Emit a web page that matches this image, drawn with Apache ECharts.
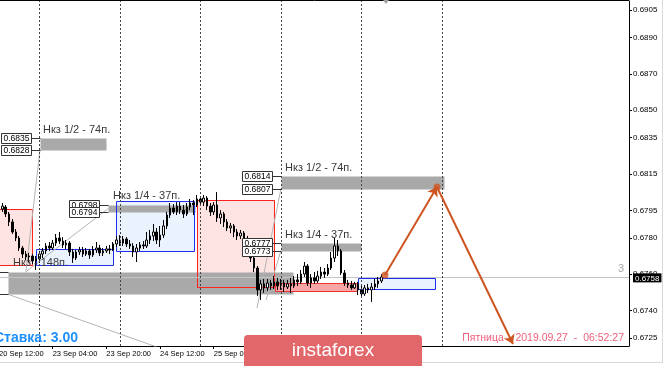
<!DOCTYPE html>
<html><head><meta charset="utf-8">
<script src="https://cdn.jsdelivr.net/npm/echarts@6/dist/echarts.min.js"></script>
<style>html,body{margin:0;padding:0;background:#fff}#c{width:665px;height:366px}</style>
</head><body><div id="c"></div>
<script>
// H1 candles, bar index 0 = 20 Sep 12:00
const opens = [
0.67969,0.67958,0.67969,0.67931,0.67887,0.67832,0.67799,0.67744,0.67711,0.67695,
0.67700,0.67673,0.67684,0.67711,0.67728,0.67755,0.67744,0.67771,0.67799,0.67782,
0.67761,0.67771,0.67722,0.67689,0.67722,0.67733,0.67711,0.67728,0.67706,0.67733,
0.67744,0.67717,0.67728,0.67739,0.67733,0.67766,0.67788,0.67771,0.67793,0.67766,
0.67755,0.67722,0.67744,0.67761,0.67755,0.67788,0.67810,0.67832,0.67788,0.67815,
0.67865,0.67925,0.67963,0.67942,0.67974,0.67952,0.67931,0.67969,0.67991,0.67980,
0.68013,0.67996,0.68018,0.67974,0.67942,0.67980,0.67909,0.67931,0.67887,0.67854,
0.67865,0.67832,0.67810,0.67826,0.67788,0.67744,0.67689,0.67634,0.67514,0.67547,
0.67525,0.67552,0.67536,0.67558,0.67536,0.67552,0.67530,0.67547,0.67536,0.67569,
0.67558,0.67601,0.67645,0.67552,0.67580,0.67563,0.67590,0.67612,0.67601,0.67634,
0.67689,0.67755,0.67728,0.67607,0.67552,0.67541,0.67525,0.67547,0.67514,0.67492,
0.67525,0.67514,0.67530,0.67547,0.67563];
const closes = [
0.67952,0.67974,0.67931,0.67887,0.67832,0.67799,0.67744,0.67711,0.67695,0.67700,
0.67673,0.67684,0.67711,0.67728,0.67755,0.67744,0.67771,0.67799,0.67782,0.67761,
0.67771,0.67722,0.67689,0.67722,0.67733,0.67711,0.67728,0.67706,0.67733,0.67744,
0.67717,0.67728,0.67739,0.67733,0.67766,0.67788,0.67771,0.67793,0.67766,0.67755,
0.67722,0.67744,0.67761,0.67755,0.67788,0.67810,0.67832,0.67788,0.67815,0.67865,
0.67925,0.67963,0.67942,0.67974,0.67952,0.67931,0.67969,0.67991,0.67980,0.68013,
0.67996,0.68018,0.67974,0.67942,0.67980,0.67909,0.67931,0.67887,0.67854,0.67865,
0.67832,0.67810,0.67826,0.67788,0.67744,0.67689,0.67634,0.67514,0.67547,0.67525,
0.67552,0.67536,0.67558,0.67536,0.67552,0.67530,0.67547,0.67536,0.67569,0.67558,
0.67601,0.67645,0.67552,0.67580,0.67563,0.67590,0.67612,0.67601,0.67634,0.67689,
0.67755,0.67728,0.67607,0.67552,0.67541,0.67525,0.67547,0.67514,0.67492,0.67525,
0.67514,0.67530,0.67547,0.67563,0.67585];
const lows = [
0.67936,0.67942,0.67914,0.67865,0.67821,0.67782,0.67728,0.67689,0.67678,0.67667,
0.67656,0.67623,0.67662,0.67689,0.67711,0.67728,0.67733,0.67755,0.67766,0.67744,
0.67739,0.67700,0.67662,0.67678,0.67706,0.67695,0.67700,0.67684,0.67695,0.67717,
0.67700,0.67700,0.67717,0.67711,0.67728,0.67750,0.67755,0.67755,0.67750,0.67739,
0.67695,0.67667,0.67728,0.67739,0.67744,0.67766,0.67782,0.67766,0.67750,0.67799,
0.67848,0.67909,0.67931,0.67925,0.67931,0.67909,0.67920,0.67952,0.67925,0.67969,
0.67980,0.67974,0.67952,0.67920,0.67925,0.67887,0.67876,0.67859,0.67837,0.67826,
0.67804,0.67788,0.67793,0.67766,0.67722,0.67667,0.67612,0.67481,0.67459,0.67497,
0.67508,0.67514,0.67519,0.67514,0.67514,0.67503,0.67519,0.67497,0.67525,0.67536,
0.67547,0.67585,0.67536,0.67525,0.67547,0.67552,0.67574,0.67580,0.67590,0.67623,
0.67667,0.67700,0.67596,0.67536,0.67525,0.67514,0.67519,0.67486,0.67470,0.67481,
0.67497,0.67448,0.67514,0.67525,0.67552];
const highs = [
0.67991,0.67991,0.67980,0.67942,0.67903,0.67848,0.67810,0.67755,0.67728,0.67717,
0.67711,0.67700,0.67728,0.67744,0.67771,0.67777,0.67788,0.67821,0.67832,0.67804,
0.67788,0.67782,0.67739,0.67733,0.67750,0.67750,0.67744,0.67739,0.67755,0.67777,
0.67761,0.67744,0.67755,0.67761,0.67777,0.67810,0.67815,0.67810,0.67804,0.67788,
0.67771,0.67766,0.67777,0.67782,0.67832,0.67843,0.67876,0.67854,0.67865,0.67898,
0.67942,0.67991,0.67985,0.67996,0.67996,0.67980,0.67991,0.68013,0.68007,0.68035,
0.68029,0.68035,0.68029,0.67991,0.67996,0.68051,0.67952,0.67942,0.67903,0.67881,
0.67876,0.67848,0.67843,0.67837,0.67810,0.67755,0.67700,0.67645,0.67569,0.67574,
0.67574,0.67569,0.67590,0.67580,0.67574,0.67569,0.67569,0.67580,0.67590,0.67601,
0.67623,0.67667,0.67656,0.67601,0.67612,0.67618,0.67640,0.67634,0.67656,0.67722,
0.67799,0.67788,0.67739,0.67623,0.67569,0.67563,0.67558,0.67558,0.67536,0.67541,
0.67547,0.67552,0.67574,0.67585,0.67601];

const timeTicks = [0, 16, 32, 48, 64, 80, 96];
const timeLabels = ['20 Sep 12:00','23 Sep 04:00','23 Sep 20:00','24 Sep 12:00','25 Sep 04:00','25 Sep 20:00','26 Sep 12:00'];
const priceTicks = [0.6725,0.6740,0.6760,0.6780,0.6795,0.6815,0.6835,0.6850,0.6870,0.6890,0.6905];
const daySeparators = [12, 36, 60, 84, 108, 132];

// zones: [barFrom, barTo, priceTop, priceBottom]
const buyZones = [[11.0,34.0,0.6774,0.6765],[34.9,58.1,0.6800,0.6773],[107.0,130.0,0.6758,0.6752]];
const sellZones = [[-4,9.84,0.6796,0.6765],[58.9,82.0,0.6801,0.6753]];
const supportBand = [[2.68,87.6,0.6761,0.6749]];
const targetLevels = [[12.2,31.9,0.6835,0.6828],[84.05,132.6,0.6814,0.6807],[84.05,107.9,0.6777,0.6773],[32.5,58.4,0.6798,0.6794]];
const stopBand = [[82.3,106.7,0.6755,0.6751]];
// price tags: [bar, price]
const tagSpots = [[12.2,0.6835],[12.2,0.6828],[84.05,0.6814],[84.05,0.6807],[32.5,0.6798],[32.5,0.6794],[84.05,0.6777],[84.05,0.6773],[2.68,0.6761],[2.68,0.6749]];
const levelNoteSpots = [[13.1,0.68394],[85.25,0.68186],[85.25,0.67815],[33.98,0.68027],[4.17,0.67662]];
const levelNotes = ['Нкз 1/2 - 74п.','Нкз 1/2 - 74п.','Нкз 1/4 - 37п.','Нкз 1/4 - 37п.','Нкз - 148п.'];
const guideLines = [
  [[12.2,0.6828],[8.05,0.6762]],
  [[7.75,0.6761],[32.5,0.6796]],
  [[2.68,0.6749],[47.1,0.6720]],
  [[76.9,0.67415],[84.05,0.6807]],
  [[79.6,0.67459],[84.05,0.6773]]
];
const forecast = [[115.05,0.67596],[130.55,0.68079],[153.2,0.67217]];

const FONT = '"Liberation Sans", Arial, sans-serif';
const X_MIN = -0.3, X_MAX = 187.78;
const candles = opens.map((o, i) => [i, o, closes[i], lows[i], highs[i]]);
const lastPrice = closes[closes.length - 1];
const lastTick = Math.floor(lastPrice * 10000) / 10000;

function rectRender(fill, stroke) {
  return function (params, api) {
    const a = api.coord([api.value(0), api.value(2)]);
    const b = api.coord([api.value(1), api.value(3)]);
    const x0 = Math.round(a[0]) + 0.5, y0 = Math.round(a[1]) + 0.5;
    const x1 = Math.round(b[0]) + 0.5, y1 = Math.round(b[1]) + 0.5;
    return {type: 'rect', shape: {x: x0, y: y0, width: x1 - x0, height: y1 - y0},
      style: {fill: fill || null, stroke: stroke || null, lineWidth: 1}};
  };
}
function zoneSeries(data, fill, stroke, z) {
  return {type: 'custom', data: data, renderItem: rectRender(fill, stroke), clip: true, silent: true, z: z};
}

const chart = echarts.init(document.getElementById('c'), null, {renderer: 'canvas'});
chart.setOption({
  animation: false,
  backgroundColor: '#fff',
  grid: {left: -2, right: 36, top: 1, bottom: 20, containLabel: false, outerBoundsMode: 'none'},
  xAxis: {
    type: 'value', min: X_MIN, max: X_MAX,
    axisLine: {show: true, onZero: false, lineStyle: {color: '#000', width: 1}},
    splitLine: {show: false},
    axisTick: {show: true, customValues: timeTicks, length: 3, lineStyle: {color: '#000'}},
    axisLabel: {show: true, customValues: timeTicks, align: 'left', margin: 4, fontSize: 7.5,
      fontFamily: FONT, color: '#000',
      formatter: v => { const k = timeTicks.indexOf(Math.round(v)); return k >= 0 ? timeLabels[k] : ''; }}
  },
  yAxis: {
    type: 'value', position: 'right', min: 0.67206, max: 0.6910, scale: true,
    axisLine: {show: true, onZero: false, lineStyle: {color: '#000', width: 1}},
    splitLine: {show: false},
    axisTick: {show: true, customValues: priceTicks, length: 3, lineStyle: {color: '#000'}},
    axisLabel: {show: true, customValues: priceTicks.concat([lastTick]), margin: 4, fontSize: 8, fontFamily: FONT, color: '#000',
      formatter: v => (Math.abs(v - lastTick) < 1e-9 ? '{cur|' + v.toFixed(4) + '}' : v.toFixed(4)),
      rich: {cur: {color: '#fff', backgroundColor: '#000', padding: [1, 2, 0, 2], fontSize: 8, fontFamily: FONT}}}
  },
  series: [
    zoneSeries(sellZones, '#FDE3E1', null, 1),
    zoneSeries(buyZones, '#EAF2FD', null, 1),
    zoneSeries(supportBand, '#A9A9A9', null, 1),
    zoneSeries(targetLevels, '#A9A9A9', null, 1),
    zoneSeries(sellZones, null, '#FF2020', 1),
    zoneSeries(buyZones, null, '#2030F0', 1),
    zoneSeries(stopBand, '#F7A6A6', '#EE3333', 1),
    {
      type: 'line', data: [], z: 2, silent: true,
      markLine: {
        silent: true, symbol: ['none', 'none'], animation: false,
        data: daySeparators.map(b => ({xAxis: b, lineStyle: {color: '#444', type: [2, 2], width: 1}, label: {show: false}}))
      }
    },
    {
      type: 'lines', coordinateSystem: 'cartesian2d', z: 2, silent: true,
      data: [{coords: [[X_MIN, lastPrice], [X_MAX, lastPrice]], lineStyle: {color: '#C4C4C4'}}]
        .concat(guideLines.map(c => ({coords: c}))),
      lineStyle: {color: '#B4B4B4', width: 1, opacity: 1}, symbol: ['none', 'none']
    },
    {
      type: 'candlestick', data: candles, encode: {x: 0, y: [1, 2, 3, 4]}, barWidth: 2, barMinWidth: 2, z: 3, clip: true, silent: true,
      itemStyle: {color: '#fff', color0: '#000', borderColor: '#000', borderColor0: '#000', borderWidth: 1}
    },
    {
      type: 'custom', z: 5, silent: true, clip: false, data: tagSpots,
      renderItem: function (params, api) {
        const p = api.coord([api.value(0), api.value(1)]);
        const x = Math.round(p[0]) + 0.5, y = Math.round(p[1]) + 0.5;
        return {type: 'group', children: [
          {type: 'line', shape: {x1: x - 9, y1: y, x2: x, y2: y}, style: {stroke: '#333', lineWidth: 1}},
          {type: 'rect', shape: {x: x - 39, y: y - 5, width: 30, height: 10}, style: {fill: '#fff', stroke: '#333', lineWidth: 1}},
          {type: 'text', x: x - 24, y: y + 0.5, style: {text: api.value(1).toFixed(4), align: 'center', verticalAlign: 'middle',
            font: '8.5px ' + FONT, fill: '#000'}}
        ]};
      }
    },
    {
      type: 'custom', z: 5, silent: true, clip: false, data: levelNoteSpots,
      renderItem: function (params, api) {
        const p = api.coord([api.value(0), api.value(1)]);
        return {type: 'text', x: p[0], y: p[1], style: {text: levelNotes[params.dataIndex], align: 'left', verticalAlign: 'middle',
          font: '11px ' + FONT, fill: '#3A3A3A'}};
      }
    },
    {
      type: 'lines', coordinateSystem: 'cartesian2d', z: 6, silent: true,
      data: [{coords: [forecast[0], forecast[1]]}, {coords: [forecast[1], forecast[2]]}],
      lineStyle: {color: '#CC5522', width: 2, opacity: 1}, symbol: ['none', 'arrow'], symbolSize: 9
    },
    {
      type: 'scatter', z: 6, silent: true, data: forecast.slice(0, 2), symbol: 'circle', symbolSize: 7,
      itemStyle: {color: '#CC5522'}
    }
  ],
  graphic: [
    {type: 'line', z: 50, shape: {x1: 0, y1: 0.5, x2: 629, y2: 0.5}, style: {stroke: '#000', lineWidth: 1}},
    {type: 'polygon', z: 50, shape: {points: [[383, 0], [389, 0], [386, 4]]}, style: {fill: '#A0A0A0'}},
    {type: 'line', z: 50, shape: {x1: 0, y1: 362.5, x2: 663, y2: 362.5}, style: {stroke: '#D8D8D8', lineWidth: 1}},
    {type: 'line', z: 50, shape: {x1: 662.5, y1: 0, x2: 662.5, y2: 363}, style: {stroke: '#D8D8D8', lineWidth: 1}},
    {type: 'text', z: 50, x: 621, y: 269, style: {text: '3', align: 'center', verticalAlign: 'middle', font: '11px ' + FONT, fill: '#AAAAAA'}},
    {type: 'text', z: 60, x: -6, y: 338, style: {text: 'Ставка: 3.00', align: 'left', verticalAlign: 'middle', font: 'bold 14px ' + FONT, fill: '#1E90FF'}},
    {type: 'text', z: 60, x: 624, y: 338.5, style: {text: 'Пятница    2019.09.27  -  06:52:27', align: 'right', verticalAlign: 'middle', font: '10.5px ' + FONT, fill: '#F0607A'}},
    {type: 'rect', z: 100, shape: {x: 244, y: 335, width: 178, height: 36, r: 4}, style: {fill: '#E1676A'}},
    {type: 'text', z: 101, x: 333, y: 350.5, style: {text: 'instaforex', align: 'center', verticalAlign: 'middle', font: '19px ' + FONT, fill: '#fff'}}
  ]
});
</script></body></html>
